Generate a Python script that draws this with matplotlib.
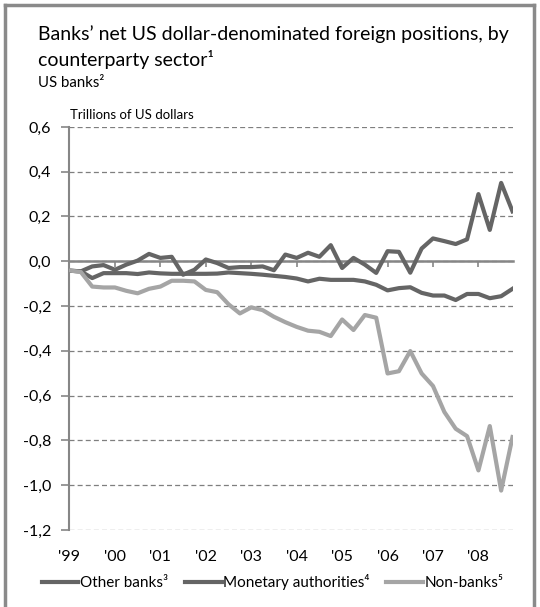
import matplotlib
matplotlib.use("Agg")
import matplotlib.pyplot as plt
from matplotlib.lines import Line2D

plt.rcParams['font.family'] = ['Lato', 'DejaVu Sans']

# quarterly data, 1999 Q1 - 2008 Q4 (trillions of US dollars)
quarters = list(range(40))
other_banks = [-0.042, -0.045, -0.023, -0.017, -0.038, -0.015, 0.003, 0.033, 0.015, 0.020,
               -0.060, -0.038, 0.008, -0.008, -0.030, -0.026, -0.026, -0.023, -0.040, 0.030,
               0.015, 0.038, 0.020, 0.072, -0.030, 0.015, -0.015, -0.052, 0.045, 0.042,
               -0.051, 0.057, 0.102, 0.090, 0.077, 0.098, 0.300, 0.140, 0.350, 0.223]
monetary = [-0.042, -0.045, -0.075, -0.053, -0.053, -0.053, -0.057, -0.050, -0.054, -0.056,
            -0.056, -0.056, -0.056, -0.055, -0.050, -0.053, -0.056, -0.060, -0.065, -0.070,
            -0.077, -0.090, -0.078, -0.083, -0.083, -0.083, -0.090, -0.105, -0.130, -0.120,
            -0.116, -0.141, -0.153, -0.153, -0.173, -0.146, -0.146, -0.165, -0.156, -0.123]
non_banks = [-0.041, -0.048, -0.113, -0.117, -0.117, -0.132, -0.143, -0.123, -0.113, -0.087,
             -0.087, -0.090, -0.128, -0.138, -0.192, -0.233, -0.206, -0.218, -0.248, -0.272,
             -0.293, -0.310, -0.315, -0.334, -0.260, -0.307, -0.240, -0.252, -0.501, -0.491,
             -0.401, -0.501, -0.557, -0.673, -0.748, -0.781, -0.934, -0.736, -1.024, -0.785]

year_labels = ["'99", "'00", "'01", "'02", "'03", "'04", "'05", "'06", "'07", "'08"]
yticks = [0.6, 0.4, 0.2, 0.0, -0.2, -0.4, -0.6, -0.8, -1.0, -1.2]
ytick_labels = ["0,6", "0,4", "0,2", "0,0", "-0,2", "-0,4", "-0,6", "-0,8", "-1,0", "-1,2"]

axis_grey = "#868686"
dark = "#656565"
light = "#a5a5a5"

fig = plt.figure(figsize=(5.4, 6.07), dpi=100)
ax = fig.add_axes([0.1287, 0.1269, 0.8204, 0.664])

ax.plot(quarters, other_banks, color=dark, lw=3, zorder=3, label="Other banks\u00b3")
ax.plot(quarters, monetary, color=dark, lw=3, zorder=3, label="Monetary authorities\u2074")
ax.plot(quarters, non_banks, color=light, lw=3, zorder=3, label="Non-banks\u2075")

ax.set_xlim(0, 39)
ax.set_ylim(-1.2, 0.6)
ax.set_yticks(yticks)
ax.set_yticklabels(ytick_labels)
ax.yaxis.grid(True, color="#7f7f7f", lw=0.9, linestyle=(0, (4, 2.5)))
ax.set_axisbelow(True)

for s in ["top", "right"]:
    ax.spines[s].set_visible(False)
ax.spines["left"].set_color(axis_grey)
ax.spines["left"].set_linewidth(1.5)
ax.spines["bottom"].set_position(("data", 0))
ax.spines["bottom"].set_color(axis_grey)
ax.spines["bottom"].set_linewidth(1.8)

year_pos = quarters[::4]
ax.set_xticks(year_pos)
ax.tick_params(axis="x", direction="out", length=4, width=1.2, color=axis_grey,
               labelbottom=False)
ax.tick_params(axis="y", direction="out", length=6, width=1.2, color=axis_grey,
               labelsize=11.5, pad=7)

for p, lab in zip(year_pos, year_labels):
    ax.text(p, -0.066, lab, transform=ax.get_xaxis_transform(), ha="center",
            va="center", fontsize=11.5)

fig.text(0.07, 1 - 40 / 607, "Banks\u2019 net US dollar-denominated foreign positions, by",
         fontsize=14, va="baseline")
fig.text(0.07, 1 - 66 / 607, "counterparty sector\u00b9", fontsize=14, va="baseline")
fig.text(0.07, 1 - 87 / 607, "US banks\u00b2", fontsize=10.8, va="baseline")
fig.text(0.13, 1 - 119 / 607, "Trillions of US dollars", fontsize=9.5, va="baseline")

fig.legend(loc="center", bbox_to_anchor=(0.505, 1 - 582 / 607), ncol=3, frameon=False,
           fontsize=11, handlelength=2.4, handletextpad=0.1, columnspacing=1.1)

# outer frame
for xs, ys in [((0.009, 0.009), (0.0, 0.992)), ((0.009, 0.988), (0.992, 0.992)),
               ((0.988, 0.988), (0.0, 0.992))]:
    fig.add_artist(Line2D(xs, ys, color="#8a8a8a", lw=2.5, transform=fig.transFigure))

fig.savefig("out.png", dpi=100)
